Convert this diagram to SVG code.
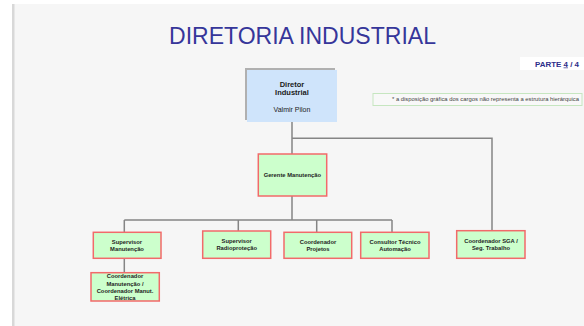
<svg xmlns="http://www.w3.org/2000/svg" width="584" height="326" viewBox="0 0 584 326">
<defs>
<style>
.bg{fill:#f6f6f6}
.box{fill:#ccffcc;stroke:#f26a6a;stroke-width:1.5}
.lbl{font-family:"Liberation Sans",Arial,sans-serif;font-weight:bold;font-size:5.8px;fill:#1e1e1e;text-anchor:middle}
.conn{fill:none;stroke:#858585;stroke-width:1.5}
</style>
</defs>
<rect x="0" y="0" width="584" height="326" fill="#ffffff"/>
<rect class="bg" x="12" y="4" width="572" height="322"/>
<rect x="12" y="4" width="2.5" height="322" fill="#d8d8d8"/>
<text x="302.5" y="44" font-family="'Liberation Sans',Arial,sans-serif" font-size="23" fill="#36369a" text-anchor="middle" textLength="267" lengthAdjust="spacingAndGlyphs">DIRETORIA INDUSTRIAL</text>
<g id="parte">
<rect x="520" y="57" width="64" height="13" fill="#ffffff"/>
<text x="557" y="66.5" font-family="'Liberation Sans',Arial,sans-serif" font-weight="bold" font-size="7" fill="#2e2e8a" text-anchor="middle" textLength="44" lengthAdjust="spacingAndGlyphs">PARTE <tspan text-decoration="underline">4</tspan> / 4</text>
</g>
<g id="note">
<rect x="373" y="93.5" width="209" height="12" fill="#f8f8f8" stroke="#c6e6c0" stroke-width="1"/>
<text x="485.5" y="101.2" font-family="'Liberation Sans',Arial,sans-serif" font-size="4.8" fill="#444" text-anchor="middle" textLength="187" lengthAdjust="spacingAndGlyphs">* a disposição gráfica  dos cargos não representa a estrutura hierárquica</text>
</g>
<g id="connectors">
<path class="conn" d="M292 122 V154 M292 196 V220"/>
<path class="conn" d="M292 138.3 H492 V231"/>
<path class="conn" d="M124.3 220 H392 M124.3 220 V232.3 M238.3 220 V231 M316.7 220 V232.3 M392 220 V232.3"/>
<path class="conn" d="M124.3 258.3 V272.7"/>
</g>
<g id="diretor">
<rect x="245" y="68" width="90" height="52" fill="#b0b0b0"/>
<rect x="247" y="70" width="90" height="52" fill="#cfe4fb"/>
<text x="292" y="86.5" font-family="'Liberation Sans',Arial,sans-serif" font-weight="bold" font-size="7.5" fill="#1a1a1a" text-anchor="middle">Diretor</text>
<text x="292" y="95" font-family="'Liberation Sans',Arial,sans-serif" font-weight="bold" font-size="7.5" fill="#1a1a1a" text-anchor="middle">Industrial</text>
<text x="292" y="111.5" font-family="'Liberation Sans',Arial,sans-serif" font-size="7" fill="#222" text-anchor="middle">Valmir Pilon</text>
</g>
<g id="gerente">
<rect class="box" x="258.3" y="154" width="68.4" height="42"/>
<text class="lbl" x="292.3" y="177" font-size="6.2">Gerente Manutenção</text>
</g>
<g id="sup-manut">
<rect class="box" x="93.3" y="232.3" width="67.7" height="26"/>
<text class="lbl" x="127" y="243.8">Supervisor</text>
<text class="lbl" x="127" y="251">Manutenção</text>
</g>
<g id="sup-radio">
<rect class="box" x="202.7" y="231" width="68" height="27.3"/>
<text class="lbl" x="236.7" y="242.8">Supervisor</text>
<text class="lbl" x="236.7" y="249.8">Radioproteção</text>
</g>
<g id="coord-projetos">
<rect class="box" x="284" y="232.3" width="67.7" height="26"/>
<text class="lbl" x="318" y="243.8">Coordenador</text>
<text class="lbl" x="318" y="250.8">Projetos</text>
</g>
<g id="consultor">
<rect class="box" x="360.7" y="232.3" width="68.3" height="26"/>
<text class="lbl" x="395" y="243.8">Consultor Técnico</text>
<text class="lbl" x="395" y="250.8">Automação</text>
</g>
<g id="coord-sga">
<rect class="box" x="456.7" y="230.7" width="68.3" height="27.6"/>
<text class="lbl" x="491" y="242.8">Coordenador SGA /</text>
<text class="lbl" x="491" y="249.8">Seg. Trabalho</text>
</g>
<g id="coord-manut">
<rect class="box" x="91" y="272.7" width="68.3" height="28.3"/>
<text class="lbl" x="125" y="278.2">Coordenador</text>
<text class="lbl" x="125" y="285.6">Manutenção /</text>
<text class="lbl" x="125" y="293">Coordenador Manut.</text>
<text class="lbl" x="125" y="300">Elétrica</text>
</g>
</svg>
